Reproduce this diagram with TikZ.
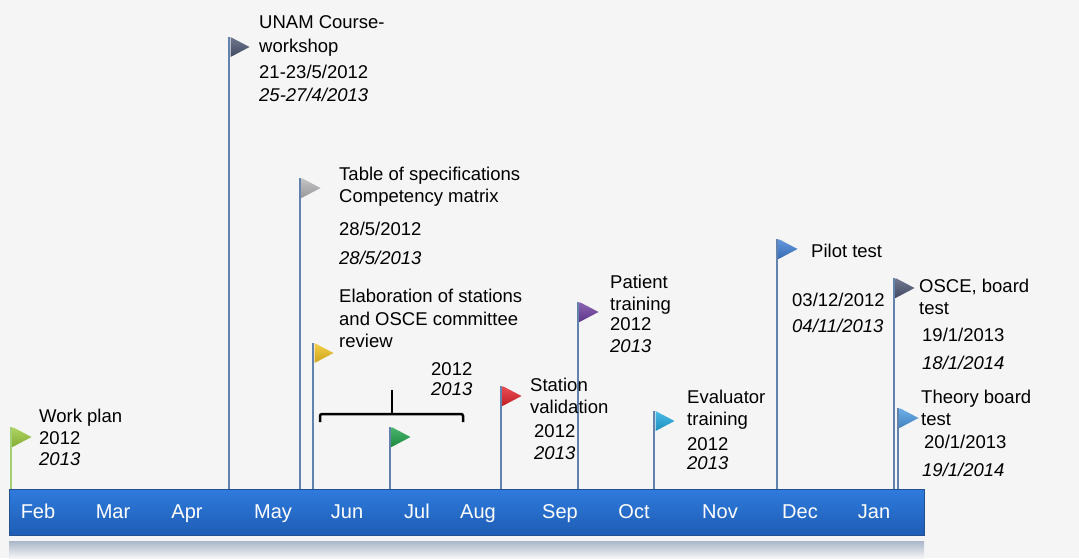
\documentclass[tikz,border=0pt]{standalone}
\usepackage{fontspec}
\setmainfont{Liberation Sans}
\definecolor{bg}{HTML}{F5F5F5}
\definecolor{poleblue}{HTML}{6283AD}
\definecolor{polegreen}{HTML}{A3CF74}
\definecolor{bartop}{HTML}{2F7BDD}
\definecolor{barmid}{HTML}{3E93F2}
\definecolor{barbot}{HTML}{1E5DB5}
\definecolor{baredge}{HTML}{24508F}
\definecolor{bandtop}{HTML}{A9B7C9}
\definecolor{flgreen}{HTML}{9BCB3C}
\definecolor{flslate}{HTML}{4B5672}
\definecolor{flgray}{HTML}{B4B4B8}
\definecolor{flyellow}{HTML}{F2C21E}
\definecolor{fljul}{HTML}{1FA34A}
\definecolor{flred}{HTML}{E3232B}
\definecolor{flpurple}{HTML}{6F3FA0}
\definecolor{flcyan}{HTML}{1FA9E1}
\definecolor{flblue}{HTML}{3F7ED3}
\definecolor{flosce}{HTML}{4E5775}
\definecolor{fltheory}{HTML}{4C9BE3}
\tikzset{
  lbl/.style={anchor=base west, inner sep=0pt, font=\fontsize{18.5}{22}\selectfont},
  dt/.style={lbl, font=\fontsize{18.5}{22}\selectfont\itshape},
  month/.style={anchor=base, inner sep=0pt, text=white, font=\fontsize{20}{24}\selectfont},
  pole/.style={draw=poleblue, line width=2.5pt},
}
\begin{document}
\begin{tikzpicture}[x=1pt, y=-1pt]
	\fill[bg] (0,0) rectangle (1079,558);
	\useasboundingbox (0,0) rectangle (1079,558);
	% time bar
	\node[inner sep=0pt, minimum width=915pt, minimum height=46pt, top color=bartop, middle color=barmid, bottom color=barbot, draw=baredge, line width=1pt] (bar) at (466.5,512) {};
	\shade[top color=bandtop, bottom color=bg] (9,541) rectangle (924,558);
	\foreach \m/\x in {Feb/38, Mar/113, Apr/187, May/273, Jun/347, Jul/417, Aug/478, Sep/560, Oct/634, Nov/720, Dec/800, Jan/874}
		\node[month] (m\m) at (\x,518) {\m};
	% pole tops
	\coordinate (wp) at (11,427);
	\coordinate (unam) at (229,37);
	\coordinate (tos) at (300,178);
	\coordinate (elab) at (313,343);
	\coordinate (jul) at (390,427);
	\coordinate (stv) at (501,386);
	\coordinate (pat) at (578,302);
	\coordinate (evt) at (654,411);
	\coordinate (pil) at (777,239);
	\coordinate (osce) at (894,278);
	\coordinate (thy) at (898,408);
	\draw[pole, draw=polegreen] (wp) -- (wp |- bar.north);
	\foreach \p in {unam, tos, elab, jul, stv, pat, evt, pil, osce, thy}
		\draw[pole] (\p) -- (\p |- bar.north);
	% flags
	\foreach \x/\y/\c in {12.5/427/flgreen, 230.5/37/flslate, 301.5/178/flgray, 314.5/343/flyellow, 391.5/427/fljul, 502.5/386/flred, 579.5/302/flpurple, 655.5/411/flcyan, 778.5/239/flblue, 895.5/278/flosce, 899.5/408/fltheory}
		\shade[top color=\c!80!white, bottom color=\c!85!black] (\x,\y) -- (\x,\y+20) -- (\x+19,\y+10) -- cycle;
	% bracket
	\draw[line width=2.5pt, rounded corners=2pt] (320,422) -- (320,414) -- (463,414) -- (463,422);
	\draw[line width=2.5pt] (392,414) -- (392,390);
	% labels
	\node[lbl] (wp1) at (39,422) {Work plan};
	\node[lbl] (wp2) at (39,444) {2012};
	\node[dt] (wp3) at (39,465) {2013};
	\node[lbl] (unam1) at (259,28) {UNAM Course-};
	\node[lbl] (unam2) at (259,52) {workshop};
	\node[lbl] (unam3) at (259,78) {21-23/5/2012};
	\node[dt] (unam4) at (259,101) {25-27/4/2013};
	\node[lbl] (tos1) at (339,180) {Table of specifications};
	\node[lbl] (tos2) at (339,202) {Competency matrix};
	\node[lbl] (tos3) at (339,235) {28/5/2012};
	\node[dt] (tos4) at (339,264) {28/5/2013};
	\node[lbl] (elab1) at (339,302) {Elaboration of stations};
	\node[lbl] (elab2) at (339,325) {and OSCE committee};
	\node[lbl] (elab3) at (339,347) {review};
	\node[lbl] (jul1) at (431,375) {2012};
	\node[dt] (jul2) at (431,395) {2013};
	\node[lbl] (stv1) at (530,391) {Station};
	\node[lbl] (stv2) at (530,413) {validation};
	\node[lbl] (stv3) at (534,437) {2012};
	\node[dt] (stv4) at (534,459) {2013};
	\node[lbl] (pat1) at (610,288) {Patient};
	\node[lbl] (pat2) at (610,310) {training};
	\node[lbl] (pat3) at (610,330) {2012};
	\node[dt] (pat4) at (610,352) {2013};
	\node[lbl] (evt1) at (687,403) {Evaluator};
	\node[lbl] (evt2) at (687,425) {training};
	\node[lbl] (evt3) at (687,450) {2012};
	\node[dt] (evt4) at (687,469) {2013};
	\node[lbl] (pil1) at (811,257) {Pilot test};
	\node[lbl] (pil2) at (792,306) {03/12/2012};
	\node[dt] (pil3) at (792,332) {04/11/2013};
	\node[lbl] (osce1) at (919,292) {OSCE, board};
	\node[lbl] (osce2) at (919,314) {test};
	\node[lbl] (osce3) at (922,341) {19/1/2013};
	\node[dt] (osce4) at (922,369) {18/1/2014};
	\node[lbl] (thy1) at (921,403) {Theory board};
	\node[lbl] (thy2) at (921,425) {test};
	\node[lbl] (thy3) at (924,448) {20/1/2013};
	\node[dt] (thy4) at (922,476) {19/1/2014};
\end{tikzpicture}
\end{document}
